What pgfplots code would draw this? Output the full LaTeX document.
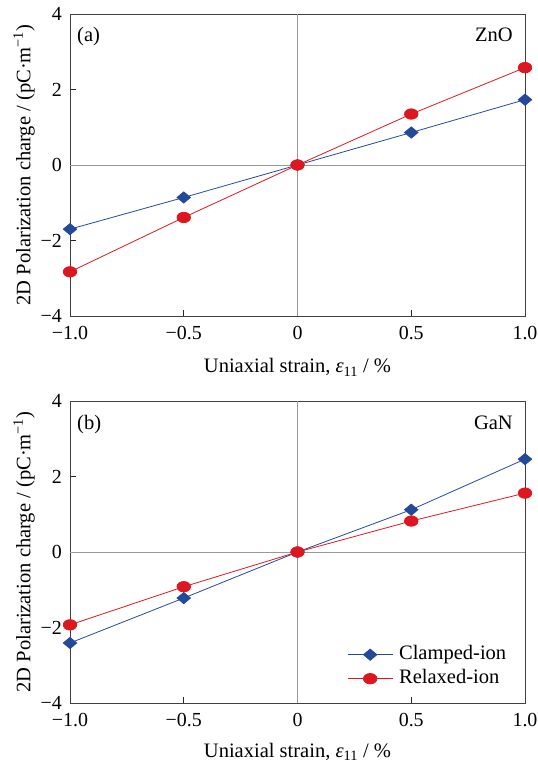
\documentclass[border=0pt]{standalone}
\usepackage{fontspec}
\setmainfont{Liberation Serif}
\usepackage{pgfplots}
\pgfplotsset{compat=1.18}
\definecolor{cblue}{HTML}{24499A}
\definecolor{cred}{HTML}{DC1720}
\newcommand{\bigfont}{\fontsize{20}{22}\selectfont}
\newcommand{\labfont}{\fontsize{20.6}{23}\selectfont}
\tikzset{tag/.style={font=\labfont, inner sep=0pt}}

\pgfplotsset{
  panel/.style={
    scale only axis, width=455bp, height=302bp,
    xmin=-1, xmax=1, ymin=-4, ymax=4,
    xtick={-1,-0.5,0,0.5,1}, xticklabels={−1.0,−0.5,0,0.5,1.0},
    ytick={-4,-2,0,2,4}, yticklabels={−4,−2,0,2,4},
    tick pos=left, tick align=inside, major tick length=6bp,
    axis line style={black!75, line width=0.9pt},
    tick style={black!85, line width=0.7pt},
    tick label style={font=\bigfont, inner sep=0pt},
    xticklabel style={anchor=base, yshift=-24bp},
    yticklabel style={anchor=east, xshift=-8bp},
    label style={font=\labfont},
    xlabel={Uniaxial strain, \textit{ε}\textsubscript{11} / \%},
    ylabel={2D Polarization charge / (pC·m\textsuperscript{−1})},
    xlabel style={at={(axis description cs:0.5,0)}, anchor=base, yshift=-57bp, inner sep=0pt},
    ylabel style={at={(axis description cs:-0.101,0.5)}, anchor=center, inner sep=0pt},
    clip=false,
    legend style={draw=none, fill=none, font=\labfont, inner sep=0pt,
      at={(axis description cs:0.609,0.05)}, anchor=south west,
      row sep=6bp, column sep=6bp,
      nodes={inner sep=0pt, text height=14bp, text depth=4bp}},
    legend cell align=left,
    legend image code/.code={
      \draw[mark repeat=2, mark phase=2] plot coordinates {(0bp,0bp) (22.5bp,0bp) (45bp,0bp)};},
  },
  clamped/.style={cblue, line width=0.8pt, mark=diamond*, mark size=5.6bp,
    mark options={xscale=1.6, fill=cblue, draw=cblue}},
  relaxed/.style={cred, line width=0.8pt, mark=*, mark size=5.2bp,
    mark options={xscale=1.3, fill=cred, draw=cred}},
}

\begin{document}
\begin{tikzpicture}
\begin{axis}[panel, name=top]
\draw[black!40, line width=0.8pt] (axis cs:-1,0) -- (axis cs:1,0);
\draw[black!40, line width=0.8pt] (axis cs:0,-4) -- (axis cs:0,4);
\addplot[clamped] coordinates {(-1,-1.70) (-0.5,-0.86) (0,0) (0.5,0.86) (1,1.73)};
\addplot[relaxed] coordinates {(-1,-2.83) (-0.5,-1.39) (0,0) (0.5,1.35) (1,2.58)};
\node[tag, anchor=base west] at ([xshift=7bp, yshift=-28bp]rel axis cs:0,1) {(a)};
\node[tag, anchor=base east] at ([xshift=-12bp, yshift=-28bp]rel axis cs:1,1) {ZnO};
\end{axis}
\begin{axis}[panel, yshift=-387bp, xlabel style={yshift=2.5bp}]
\draw[black!40, line width=0.8pt] (axis cs:-1,0) -- (axis cs:1,0);
\draw[black!40, line width=0.8pt] (axis cs:0,-4) -- (axis cs:0,4);
\addplot[clamped] coordinates {(-1,-2.41) (-0.5,-1.22) (0,0) (0.5,1.12) (1,2.46)};
\addlegendentry{Clamped-ion}
\addplot[relaxed] coordinates {(-1,-1.93) (-0.5,-0.92) (0,0) (0.5,0.82) (1,1.56)};
\addlegendentry{Relaxed-ion}
\node[tag, anchor=base west] at ([xshift=7bp, yshift=-28bp]rel axis cs:0,1) {(b)};
\node[tag, anchor=base east] at ([xshift=-12bp, yshift=-28bp]rel axis cs:1,1) {GaN};
\end{axis}
\pgfresetboundingbox
\path[use as bounding box] ([xshift=-70bp, yshift=14bp]top.north west) rectangle ([xshift=468bp, yshift=-750bp]top.north west);
\end{tikzpicture}
\end{document}
